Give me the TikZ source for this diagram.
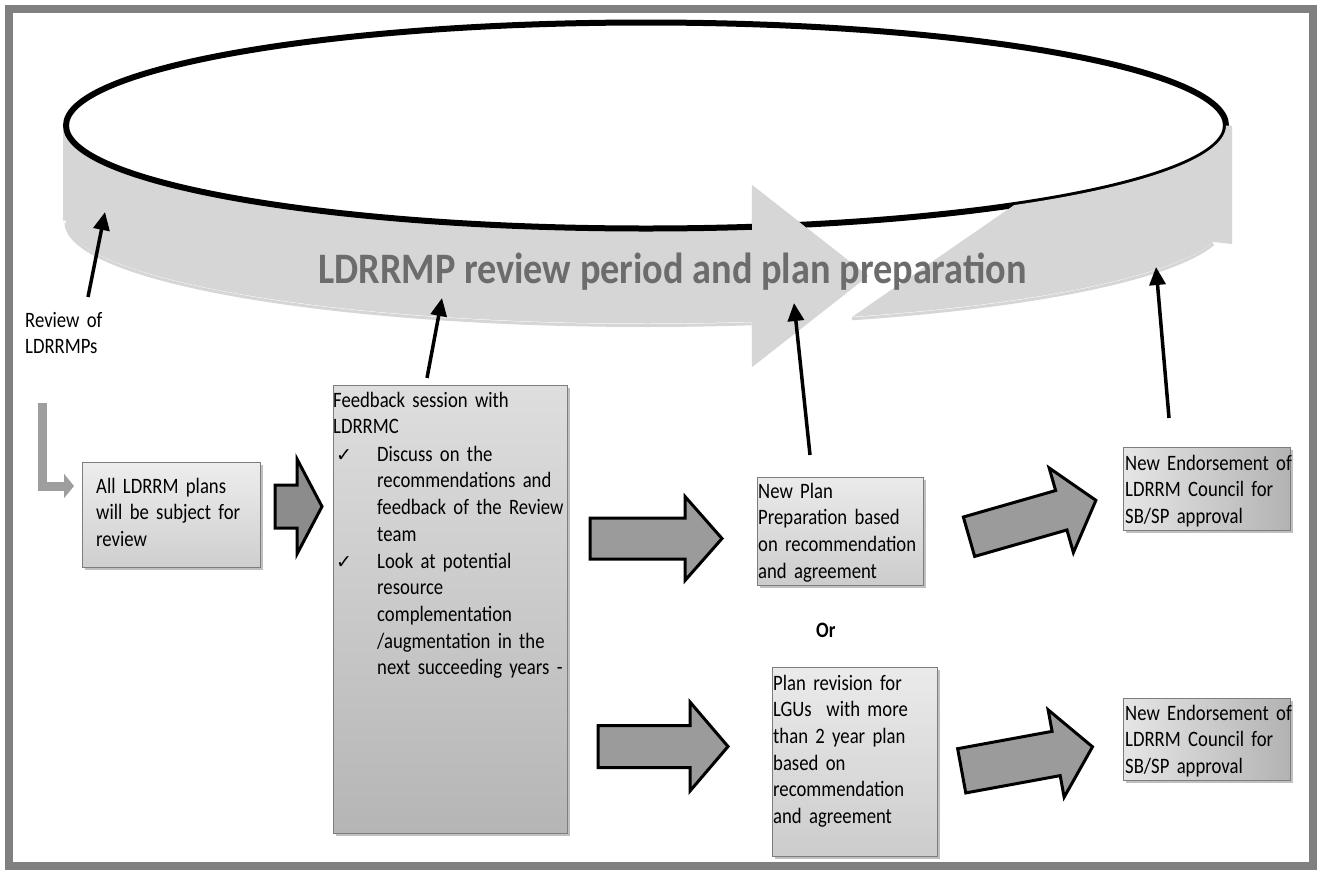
\documentclass[tikz,border=0pt]{standalone}
\usepackage{fontspec}
\setmainfont{Carlito}[FakeStretch=0.88]
\newfontfamily\bodyfam{Carlito}[FakeStretch=0.85]
\newfontfamily\symfont{DejaVu Sans}
\usetikzlibrary{shadows,arrows.meta}
\definecolor{bandgray}{RGB}{214,214,214}
\definecolor{titlegray}{RGB}{108,108,108}
\definecolor{framegray}{RGB}{128,128,128}
\definecolor{arrowfill}{RGB}{155,155,155}
\definecolor{boxborder}{RGB}{125,125,125}
\newcommand\blockarrow[8]{%
  \begin{scope}[shift={(#1,#2)}, rotate=#3]
    \draw[barrow, fill=#8] (0,-#5) -- ({#4-#7},-#5) -- ({#4-#7},-#6) -- (#4,0)
      -- ({#4-#7},#6) -- ({#4-#7},#5) -- (0,#5) -- cycle;
  \end{scope}}
\newcommand\bodyfont{\bodyfam\fontsize{22}{26.7}\selectfont\spaceskip=3.8pt plus 1pt minus 0.5pt\relax}
\begin{document}
\begin{tikzpicture}[x=1pt,y=-1pt,
  box/.style={draw=boxborder, line width=1.2pt, anchor=north west, inner sep=0pt,
    drop shadow={shadow xshift=2.5pt, shadow yshift=-2.5pt, opacity=0.35, fill=black!70}},
  txt/.style={anchor=base west, inner sep=0pt, align=left, text width=250pt,
    font=\bodyfont},
  chk/.style={anchor=base west, inner sep=0pt, font=\symfont\fontsize{19}{22}\selectfont},
  barrow/.style={draw=black, line width=3pt, line join=miter},
  blk/.style={line width=3.5pt, -{Triangle[length=18pt,width=16pt]}},
  band/.style={fill=bandgray},
  bandshadow/.style={draw=black!45, line width=3pt, opacity=0.35}]
\useasboundingbox (0,0) rectangle (1321,871);
\fill[white] (0,0) rectangle (1321,871);
% frame
\draw[framegray, line width=8pt] (9,9) rectangle (1313,866);

% soft shadows below the ring band
\draw[bandshadow] plot[domain=180:79.5,samples=80] ({646+580*cos(\x)},{222.5+103*sin(\x)});
\draw[bandshadow] plot[domain=12:69.2,samples=50] ({646+580*cos(\x)},{222.5+103*sin(\x)});
% ring band, left piece with arrow head
\fill[band] (63,125.5) -- plot[domain=180:79.5,samples=80] ({646+580*cos(\x)},{125.5+103*sin(\x)})
  -- (752,185) -- (868,276) -- (752,367)
  -- plot[domain=79.5:180,samples=80] ({646+580*cos(\x)},{220.5+103*sin(\x)}) -- (63,220.5) -- cycle;
% black ellipse
\draw[black, line width=6pt] (646,125.5) ellipse [x radius=580pt, y radius=103pt];
% arrow head above the ellipse line
\fill[band] (752,185) -- (868,276) -- (752,367) -- cycle;
% right piece
\fill[band] (852,317) -- plot[domain=50.6:0,samples=50] ({646+580*cos(\x)},{125.5+103*sin(\x)})
  -- (1232,125.5) -- (1232,244)
  -- plot[domain=12:69.2,samples=50] ({646+580*cos(\x)},{220.5+103*sin(\x)}) -- cycle;
\node[anchor=base west, inner sep=0pt, text=titlegray, font=\fontsize{43.5}{50}\selectfont\bfseries]
  (title) at (318,283) {LDRRMP review period and plan preparation};

% boxes
\node[box, top color=black!7, bottom color=black!19, minimum width=178pt, minimum height=105pt] (b1) at (82,462) {};
\node[box, top color=black!13, bottom color=black!29, minimum width=234pt, minimum height=448pt] (fb) at (333,385) {};
\node[box, top color=black!8, bottom color=black!20, minimum width=166pt, minimum height=108pt] (np) at (757,477) {};
\node[box, top color=black!8, bottom color=black!20, minimum width=165pt, minimum height=189pt] (pr) at (772,667) {};
\node[box, left color=black!10, right color=black!30, minimum width=167pt, minimum height=83pt] (e1) at (1123,447) {};
\node[box, left color=black!10, right color=black!30, minimum width=167pt, minimum height=82pt] (e2) at (1123,698) {};

% texts
\node[txt] (t1) at (96,493) {All LDRRM plans\\will be subject for\\review};
\node[txt] (tf) at (333,407) {Feedback session with\\LDRRMC};
\node[chk] (c1) at (336,461) {✓};
\node[txt] (tf1) at (377,461) {Discuss on the\\recommendations and\\feedback of the Review\\team};
\node[chk] (c2) at (336,568) {✓};
\node[txt] (tf2) at (377,568) {Look at potential\\resource\\complementation\\/augmentation in the\\next succeeding years -};
\node[txt] (tnp) at (758,498) {New Plan\\Preparation based\\on recommendation\\and agreement};
\node[txt] (tor) at (816,637) {\bfseries Or};
\node[txt] (tpr) at (773,690) {Plan revision for\\LGUs \ with more\\than 2 year plan\\based on\\recommendation\\and agreement};
\node[txt] (te1) at (1125,470) {New Endorsement of\\LDRRM Council for\\SB/SP approval};
\node[txt] (te2) at (1125,720) {New Endorsement of\\LDRRM Council for\\SB/SP approval};
\node[txt] (rev) at (25,327) {Review of\\LDRRMPs};

% block arrows
\blockarrow{275}{506.5}{0}{47}{21.5}{47.5}{25}{black!45}
\blockarrow{590}{538.5}{0}{132}{20.5}{42}{37}{arrowfill}
\blockarrow{598}{746.5}{0}{130}{21}{44.5}{38}{arrowfill}
\blockarrow{969}{536.7}{16}{132}{20.5}{44}{36}{arrowfill}
\blockarrow{961.7}{770.8}{10.4}{133}{22.5}{44.4}{37}{arrowfill}

% bent entry arrow
\coordinate (Ls) at (42.5,403);
\coordinate (Lc) at (42.5,486);
\coordinate (Le) at (74,486);
\draw[black!38, line width=9pt, line join=miter, -{Triangle[length=10pt,width=24pt]}] (Ls) -- (Lc) -- (Le);

% black pointer arrows
\coordinate (a1s) at (88,297);   \coordinate (a1e) at (105,212);
\coordinate (a2s) at (427,378);  \coordinate (a2e) at (442,298);
\coordinate (a3s) at (810,455);  \coordinate (a3e) at (794,303);
\coordinate (a4s) at (1169,418); \coordinate (a4e) at (1156,267);
\draw[blk] (a1s) -- (a1e);
\draw[blk] (a2s) -- (a2e);
\draw[blk] (a3s) -- (a3e);
\draw[blk] (a4s) -- (a4e);
\end{tikzpicture}
\end{document}
